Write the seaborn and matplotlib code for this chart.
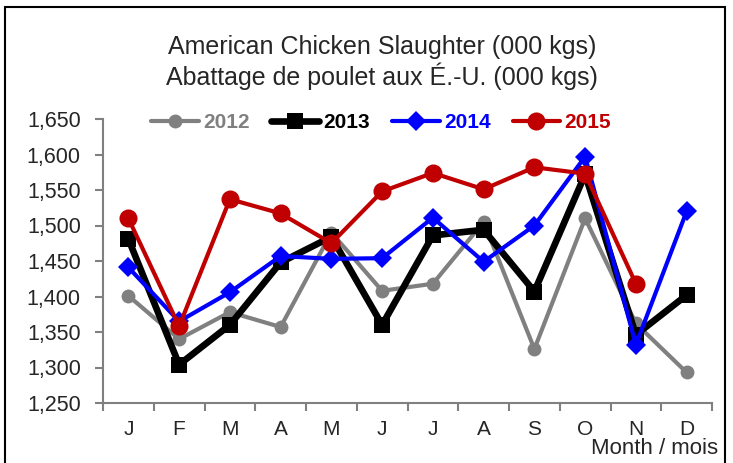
import matplotlib
matplotlib.use("Agg")
import matplotlib.pyplot as plt
import seaborn as sns
import pandas as pd
from matplotlib.patches import Rectangle
from matplotlib.ticker import FuncFormatter

months = ["J", "F", "M", "A", "M", "J", "J", "A", "S", "O", "N", "D"]
y2012 = [1401, 1340, 1378, 1357, 1490, 1408, 1418, 1505, 1326, 1510, 1362, 1293]
y2013 = [1481, 1304, 1360, 1448, 1484, 1360, 1486, 1494, 1407, 1572, 1346, 1402]
y2014 = [1441, 1365, 1406, 1457, 1453, 1454, 1511, 1449, 1500, 1597, 1332, 1520]
y2015 = [1510, 1358, 1537, 1517, 1475, 1548, 1574, 1551, 1582, 1573, 1418]

series = {"2012": y2012, "2013": y2013, "2014": y2014, "2015": y2015}
rows = []
for yr, vals in series.items():
    for i, v in enumerate(vals):
        rows.append({"year": yr, "month": i, "value": v})
df = pd.DataFrame(rows)

sns.set_theme(style="white")
plt.rcParams["font.family"] = ["Liberation Sans", "DejaVu Sans"]

fig = plt.figure(figsize=(7.33, 4.63), dpi=100)
ax = fig.add_axes([103 / 733, 1 - 403 / 463, 609 / 733, 284 / 463])

# стили линий для каждого года
styles = {
    "2012": dict(color="#808080", marker="o", lw=3, ms=10),
    "2013": dict(color="#000000", marker="s", lw=4.8, ms=11),
    "2014": dict(color="#0000FF", marker="D", lw=3, ms=10),
    "2015": dict(color="#C00000", marker="o", lw=3, ms=13),
}
for yr in series:
    st = styles[yr]
    sns.lineplot(data=df[df["year"] == yr], x="month", y="value", ax=ax,
                 color=st["color"], marker=st["marker"], linewidth=st["lw"],
                 markersize=st["ms"], markeredgewidth=0, label=yr)

ax.set_xlim(-0.5, 11.5)
ax.set_ylim(1250, 1650)
ax.set_yticks(range(1250, 1651, 50))
ax.yaxis.set_major_formatter(FuncFormatter(lambda v, p: f"{int(v):,}"))
ax.set_xticks(range(12))
ax.set_xticklabels(months)
ax.set_xticks([i - 0.5 for i in range(13)], minor=True)
ax.tick_params(axis="x", which="major", length=0, labelsize=15, pad=12)
ax.tick_params(axis="x", which="minor", length=6, color="#808080", width=1.5, bottom=True)
ax.tick_params(axis="y", length=6, color="#808080", width=1.5, labelsize=15.5, pad=10, left=True)
ax.set_xlabel("")
ax.set_ylabel("")
for s in ["top", "right"]:
    ax.spines[s].set_visible(False)
for s in ["left", "bottom"]:
    ax.spines[s].set_color("#808080")
    ax.spines[s].set_linewidth(1.5)

ax.get_legend().remove()
handles, labels = ax.get_legend_handles_labels()
leg = fig.legend(handles, labels, loc="center", bbox_to_anchor=(381 / 733, 1 - 123 / 463),
                 ncol=4, frameon=False, handlelength=2.3, columnspacing=1.05,
                 handletextpad=0.2, prop={"weight": "bold", "size": 15})
for txt, yr in zip(leg.get_texts(), labels):
    txt.set_color(styles[yr]["color"])

fig.text(382 / 733, 1 - 47 / 463, "American Chicken Slaughter (000 kgs)",
         ha="center", va="center", fontsize=18)
fig.text(382 / 733, 1 - 76 / 463, "Abattage de poulet aux É.-U. (000 kgs)",
         ha="center", va="center", fontsize=18)
fig.text(718 / 733, 1 - 449 / 463, "Month / mois", ha="right", va="center", fontsize=16)

fig.patches.append(Rectangle((5 / 733, -0.01), 720 / 733, 1 - 7 / 463 + 0.01,
                             transform=fig.transFigure, fill=False, ec="black", lw=1.5))

fig.savefig("out.png", dpi=100)
